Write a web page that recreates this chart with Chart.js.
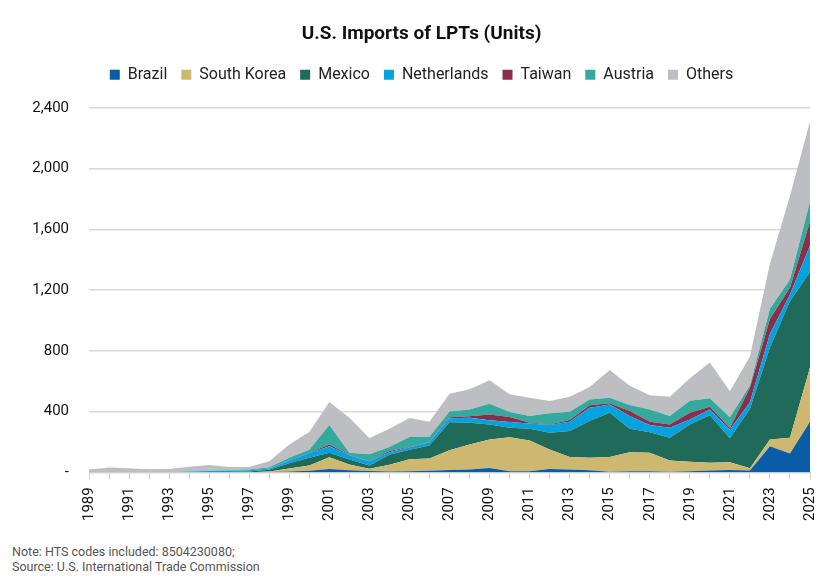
<!DOCTYPE html>
<html>
<head>
<meta charset="utf-8">
<script src="https://cdn.jsdelivr.net/npm/chart.js@4.4.0/dist/chart.umd.min.js"></script>
<style>
    body { margin: 0; background: #fff; }
    #wrap { position: absolute; left: 0; top: 0; width: 836px; height: 529px; }
    #note {
        position: absolute; left: 12px; top: 544px;
        font-family: Roboto, sans-serif; font-size: 12.5px; line-height: 15px; color: #555;
    }
</style>
</head>
<body>
<div id="wrap"><canvas id="lptChart"></canvas></div>
<div id="note">Note: HTS codes included: 8504230080;<br>Source: U.S. International Trade Commission</div>
<script>
// Years on the x axis
const years = [];
for (let y = 1989; y <= 2025; y++) years.push(String(y));

// Units per country, 1989 -> 2025
const brazil = [0, 0, 0, 0, 0, 0, 0, 0, 0, 2,
    5, 10, 22, 13, 8, 5, 6, 10, 15, 18,
    28, 6, 6, 22, 18, 13, 4, 6, 7, 4,
    7, 11, 15, 12, 172, 123, 333];
const southKorea = [0, 0, 0, 0, 0, 0, 0, 0, 0, 3,
    20, 35, 77, 38, 16, 45, 80, 80, 130, 165,
    188, 225, 203, 128, 83, 82, 97, 126, 121, 73,
    62, 51, 51, 15, 44, 104, 357];
const mexico = [0, 0, 0, 0, 0, 0, 0, 2, 5, 12,
    35, 50, 29, 33, 20, 65, 62, 86, 185, 143,
    99, 62, 78, 110, 170, 242, 291, 155, 136, 150,
    246, 313, 158, 390, 606, 900, 628];
const netherlands = [0, 0, 0, 0, 0, 5, 8, 8, 8, 8,
    18, 30, 44, 28, 29, 17, 17, 22, 26, 33,
    27, 38, 35, 51, 62, 88, 55, 83, 47, 66,
    33, 39, 56, 44, 88, 44, 176];
const taiwan = [0, 0, 0, 0, 0, 0, 0, 0, 0, 0,
    2, 3, 11, 3, 2, 8, 3, 2, 7, 10,
    39, 33, 4, 4, 11, 16, 7, 33, 22, 22,
    44, 18, 11, 95, 99, 44, 155];
const austria = [0, 0, 0, 0, 0, 0, 0, 3, 5, 8,
    15, 20, 128, 13, 44, 27, 65, 34, 37, 44,
    71, 33, 44, 73, 55, 39, 37, 40, 80, 55,
    79, 55, 72, 16, 67, 55, 132];
const others = [18, 31, 26, 20, 22, 32, 40, 22, 17, 40,
    88, 117, 152, 231, 105, 120, 125, 99, 117, 134,
    154, 117, 121, 81, 99, 82, 183, 126, 95, 128,
    148, 236, 170, 190, 297, 550, 529];

const yTicks = [0, 400, 800, 1200, 1600, 2000, 2400];

const series = [
    { label: 'Brazil', data: brazil, color: '#0B5CA7' },
    { label: 'South Korea', data: southKorea, color: '#CEB86F' },
    { label: 'Mexico', data: mexico, color: '#1F6A59' },
    { label: 'Netherlands', data: netherlands, color: '#04A3E0' },
    { label: 'Taiwan', data: taiwan, color: '#8A2E4A' },
    { label: 'Austria', data: austria, color: '#35A99D' },
    { label: 'Others', data: others, color: '#BDBEC1' }
];

// Extra room between the legend and the plot
const legendGap = {
    id: 'legendGap',
    beforeInit(chart) {
        const fit = chart.legend.fit;
        chart.legend.fit = function () {
            fit.bind(chart.legend)();
            this.height += 15;
        };
    }
};

const ctx = document.getElementById('lptChart').getContext('2d');
new Chart(ctx, {
    type: 'line',
    data: {
        labels: years,
        datasets: series.map((s, i) => ({
            label: s.label,
            data: s.data,
            backgroundColor: s.color,
            borderColor: s.color,
            borderWidth: 0,
            pointRadius: 0,
            tension: 0,
            fill: i === 0 ? 'origin' : '-1'
        }))
    },
    plugins: [legendGap],
    options: {
        responsive: true,
        maintainAspectRatio: false,
        animation: false,
        layout: { padding: { left: 31, right: 24, top: 10, bottom: 0 } },
        plugins: {
            title: {
                display: true,
                text: 'U.S. Imports of LPTs (Units)',
                color: '#111',
                font: { family: 'Roboto', size: 19, weight: 'bold' },
                padding: { top: 13, bottom: 7 }
            },
            legend: {
                position: 'top',
                labels: {
                    color: '#222',
                    font: { family: 'Roboto', size: 16 },
                    boxWidth: 10,
                    boxHeight: 10,
                    padding: 14
                }
            },
            tooltip: { enabled: false }
        },
        scales: {
            x: {
                offset: false,
                grid: {
                    drawOnChartArea: false,
                    drawTicks: true,
                    tickLength: 7,
                    color: '#d0d0d0'
                },
                border: { display: true, color: '#d0d0d0' },
                ticks: {
                    autoSkip: false,
                    maxRotation: 90,
                    minRotation: 90,
                    padding: 8,
                    color: '#111',
                    font: { family: 'Roboto', size: 15 },
                    callback: function (val, idx) {
                        return idx % 2 === 0 ? years[idx] : '';
                    }
                }
            },
            y: {
                stacked: true,
                min: yTicks[0],
                max: yTicks[yTicks.length - 1],
                afterBuildTicks: axis => { axis.ticks = yTicks.map(v => ({ value: v })); },
                afterFit: axis => { axis.width = 58; },
                grid: { color: '#d9d9d9', lineWidth: 1.5, drawTicks: false },
                border: { display: false },
                ticks: {
                    padding: 20,
                    color: '#111',
                    font: { family: 'Roboto', size: 15 },
                    callback: v => v === 0 ? '-' : v.toLocaleString('en-US')
                }
            }
        }
    }
});
</script>
</body>
</html>
